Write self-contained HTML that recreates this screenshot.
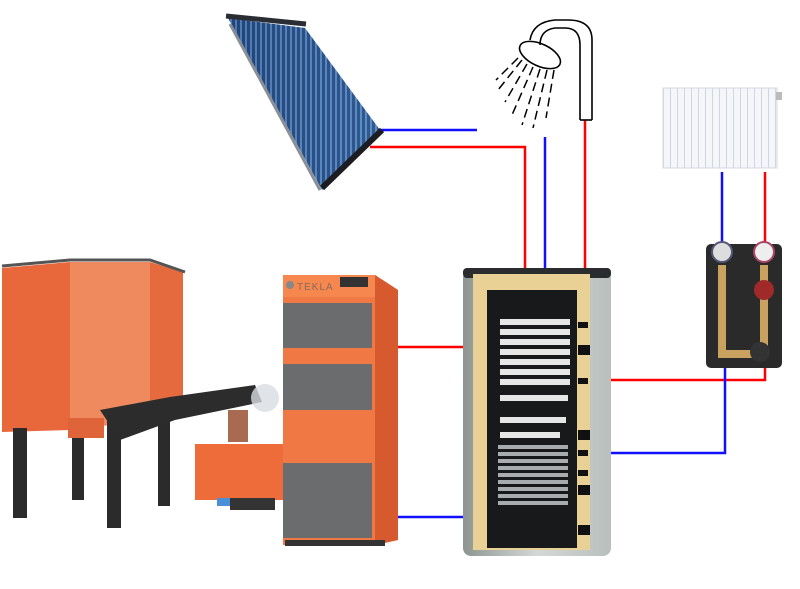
<!DOCTYPE html>
<html><head><meta charset="utf-8"><style>html,body{margin:0;padding:0;background:#fff}svg{display:block}</style></head>
<body>
<svg width="800" height="589" viewBox="0 0 800 589" xmlns="http://www.w3.org/2000/svg">
<defs>
<linearGradient id="tank" x1="0" x2="1"><stop offset="0" stop-color="#8e9590"/><stop offset=".5" stop-color="#d4d9d6"/><stop offset="1" stop-color="#b9bfbc"/></linearGradient>
<linearGradient id="sol" x1="0" x2="1"><stop offset="0" stop-color="#1e3a6e"/><stop offset="1" stop-color="#4a78b0"/></linearGradient>
<pattern id="tubes" width="5" height="10" patternUnits="userSpaceOnUse"><rect width="5" height="10" fill="#234a80"/><rect x="0" width="2" height="10" fill="#6a9ad0"/></pattern>
<pattern id="fins" width="7" height="10" patternUnits="userSpaceOnUse"><rect width="7" height="10" fill="#f4f6fa"/><rect x="5" width="1" height="10" fill="#cfd6e2"/></pattern>
</defs>
<!-- pipes -->
<g stroke-width="2.5" fill="none">
<path d="M378 130 H477" stroke="#1010ff"/>
<path d="M370 147 H525 V268" stroke="#ff0000"/>
<path d="M545 137 V268" stroke="#1010ff"/>
<path d="M585 120 V268" stroke="#ff0000"/>
<path d="M722 172 V242" stroke="#1010ff"/>
<path d="M765 172 V242" stroke="#ff0000"/>
<path d="M398 347 H465" stroke="#ff0000"/>
<path d="M398 517 H465" stroke="#1010ff"/>
<path d="M600 380 H765 V365" stroke="#ff0000"/>
<path d="M600 453 H725 V365" stroke="#1010ff"/>
</g>
<!-- solar panel -->
<g>
<polygon points="228,18 305,28 380,130 322,190" fill="url(#tubes)"/>
<polygon points="228,18 305,28 380,130 322,190" fill="url(#sol)" opacity=".35"/>
<path d="M226 16 L306 24" stroke="#2a2d33" stroke-width="5"/>
<path d="M230 24 L320 190" stroke="#8a8f96" stroke-width="3"/>
<path d="M322 188 L382 130" stroke="#1b1d22" stroke-width="6"/>
</g>
<!-- shower -->
<g fill="none" stroke="#000" stroke-width="1.6">
<path d="M580 120 V45 Q580 28 565 28 H555 Q540 30 540 45 M592 120 V40 Q592 20 568 20 H555 Q533 22 530 40"/>
<path d="M580 120 H592"/>
<ellipse cx="540" cy="55" rx="22" ry="11" transform="rotate(25 540 55)"/>
</g>
<g fill="none" stroke="#000" stroke-width="1.5" stroke-dasharray="9 5">
<path d="M522 60 L498 90 M527 64 L505 102 M533 67 L512 115 M540 69 L522 125 M547 70 L533 128 M554 70 L546 118 M518 58 L496 80"/>
</g>
<!-- radiator -->
<rect x="663" y="88" width="114" height="80" fill="url(#fins)" stroke="#d4d9e2"/>
<rect x="776" y="92" width="6" height="8" fill="#bbb"/>
<!-- pump group -->
<rect x="706" y="244" width="76" height="124" rx="5" fill="#2a2a2a"/>
<circle cx="722" cy="252" r="10" fill="#ddd" stroke="#557" stroke-width="2"/>
<circle cx="764" cy="252" r="10" fill="#eee" stroke="#a46" stroke-width="2"/>
<rect x="718" y="265" width="8" height="90" fill="#c9a260"/>
<rect x="760" y="265" width="8" height="90" fill="#c9a260"/>
<circle cx="764" cy="290" r="10" fill="#a02a2a"/>
<rect x="718" y="350" width="50" height="8" fill="#c9a260"/>
<circle cx="760" cy="352" r="10" fill="#333"/>
<!-- tank -->
<rect x="463" y="270" width="148" height="286" rx="8" fill="url(#tank)"/>
<rect x="463" y="268" width="148" height="10" rx="4" fill="#2a2c2e"/>
<path d="M473 274 H590 V550 H473 Z" fill="#e9d196"/>
<path d="M487 290 H577 V548 H487 Z" fill="#18191b"/>
<g fill="none" stroke="#e6e6e6" stroke-width="6">
<path d="M500 322 H570 M500 332 H570 M500 342 H570 M500 352 H570 M500 362 H570 M500 372 H570 M500 382 H570 M500 398 H568 M500 420 H566 M500 435 H560"/>
</g>
<g fill="none" stroke="#a9acae" stroke-width="4">
<path d="M498 447 H568 M498 454 H568 M498 461 H568 M498 468 H568 M498 475 H568 M498 482 H568 M498 489 H568 M498 496 H568 M498 503 H568"/>
</g>
<g fill="#111"><rect x="578" y="322" width="10" height="6"/><rect x="578" y="345" width="12" height="10"/><rect x="578" y="378" width="10" height="6"/><rect x="578" y="430" width="12" height="10"/><rect x="578" y="450" width="10" height="6"/><rect x="578" y="470" width="10" height="6"/><rect x="578" y="485" width="12" height="10"/><rect x="578" y="525" width="12" height="10"/></g>
<!-- hopper -->
<polygon points="2,268 70,262 70,430 2,432" fill="#e8683c"/>
<polygon points="70,262 150,262 150,420 70,430" fill="#ef8a5e"/>
<polygon points="150,262 183,272 183,395 150,420" fill="#e56a3e"/>
<path d="M2 266 L70 260 L150 260 L185 272" stroke="#555" stroke-width="3" fill="none"/>
<g fill="#2b2b2b"><rect x="13" y="428" width="14" height="90"/><rect x="72" y="420" width="12" height="80"/><rect x="107" y="412" width="14" height="116"/><rect x="158" y="420" width="12" height="86"/></g>
<rect x="68" y="418" width="36" height="20" fill="#e0643a"/>
<polygon points="100,410 170,397 255,385 262,402 175,420 120,440" fill="#2c2c2c"/>
<ellipse cx="265" cy="398" rx="14" ry="14" fill="#d8dde2" opacity=".8"/>
<rect x="228" y="410" width="20" height="32" fill="#a86a50"/>
<rect x="195" y="444" width="88" height="56" fill="#ee6c3a"/>
<rect x="230" y="498" width="45" height="12" fill="#333"/>
<rect x="217" y="498" width="13" height="8" fill="#4a90d9"/>
<!-- boiler -->
<polygon points="283,275 375,275 398,290 398,540 375,545 283,545" fill="#f07845"/>
<polygon points="375,275 398,290 398,540 375,545" fill="#d65a2e"/>
<rect x="283" y="275" width="92" height="22" fill="#f5874f"/>
<circle cx="290" cy="285" r="4" fill="#888"/>
<text x="297" y="290" font-family="Liberation Sans, sans-serif" font-size="10" fill="#8a6a5a" letter-spacing="1">TEKLA</text>
<rect x="340" y="277" width="28" height="10" fill="#333"/>
<rect x="283" y="303" width="89" height="45" fill="#6b6c6e"/>
<rect x="283" y="364" width="89" height="46" fill="#6b6c6e"/>
<rect x="283" y="463" width="89" height="75" fill="#6b6c6e"/>
<rect x="285" y="540" width="100" height="6" fill="#333"/>
</svg>
</body></html>
